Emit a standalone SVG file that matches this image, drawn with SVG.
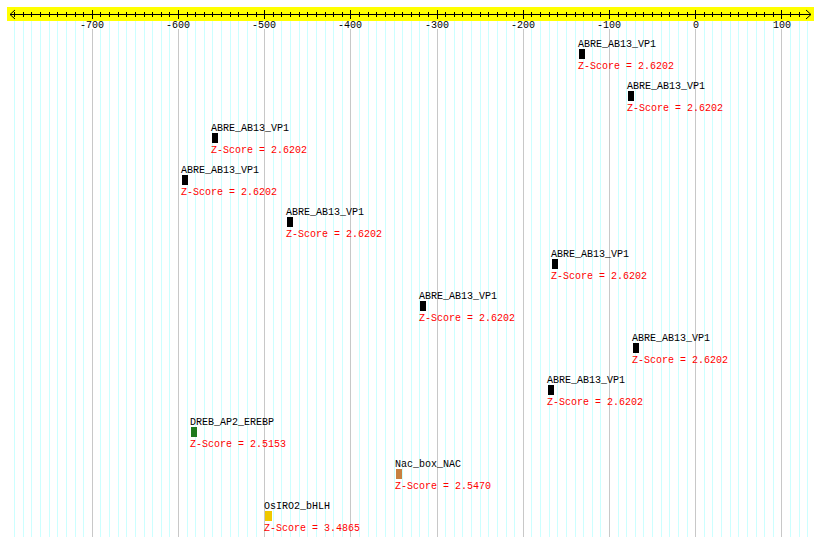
<svg xmlns="http://www.w3.org/2000/svg" width="820" height="547" viewBox="0 0 820 547">
<style>
text{font-family:"Liberation Mono","DejaVu Sans Mono",monospace;font-size:10px}
.lbl{fill:#000}
.z{fill:#ff0000}
.ax{fill:#000;text-anchor:middle}
.minor{stroke:#ccffff;stroke-width:1;fill:none}
.major{stroke:#c8c8c8;stroke-width:1;fill:none}
.tick{stroke:#000;stroke-width:1;fill:none}
</style>
<rect width="820" height="547" fill="#fff"/>
<g id="grid">
<path class="minor" d="M14.5 21V537M23.5 21V537M31.5 21V537M40.5 21V537M49.5 21V537M57.5 21V537M66.5 21V537M75.5 21V537M83.5 21V537M100.5 21V537M109.5 21V537M118.5 21V537M126.5 21V537M135.5 21V537M144.5 21V537M152.5 21V537M161.5 21V537M169.5 21V537M187.5 21V537M195.5 21V537M204.5 21V537M212.5 21V537M221.5 21V537M230.5 21V537M238.5 21V537M247.5 21V537M256.5 21V537M273.5 21V537M281.5 21V537M290.5 21V537M299.5 21V537M307.5 21V537M316.5 21V537M325.5 21V537M333.5 21V537M342.5 21V537M359.5 21V537M368.5 21V537M376.5 21V537M385.5 21V537M394.5 21V537M402.5 21V537M411.5 21V537M419.5 21V537M428.5 21V537M445.5 21V537M454.5 21V537M462.5 21V537M471.5 21V537M480.5 21V537M488.5 21V537M497.5 21V537M506.5 21V537M514.5 21V537M531.5 21V537M540.5 21V537M549.5 21V537M557.5 21V537M566.5 21V537M575.5 21V537M583.5 21V537M592.5 21V537M600.5 21V537M618.5 21V537M626.5 21V537M635.5 21V537M643.5 21V537M652.5 21V537M661.5 21V537M669.5 21V537M678.5 21V537M687.5 21V537M704.5 21V537M712.5 21V537M721.5 21V537M730.5 21V537M738.5 21V537M747.5 21V537M756.5 21V537M764.5 21V537M773.5 21V537M790.5 21V537M799.5 21V537M807.5 21V537"/>
<path class="major" d="M92.5 29V537M178.5 29V537M264.5 29V537M350.5 29V537M437.5 29V537M523.5 29V537M609.5 29V537M695.5 29V537M781.5 29V537"/>
</g>
<g id="ruler">
<rect x="7" y="7" width="807" height="14" fill="#ffff00"/>
<path class="tick" d="M10 14.5H811M15 10L10 14.5L15 19M806 10L811 14.5L806 19"/>
<path class="tick" d="M14.5 12V17M23.5 12V17M31.5 12V17M40.5 12V17M49.5 12V17M57.5 12V17M66.5 12V17M75.5 12V17M83.5 12V17M100.5 12V17M109.5 12V17M118.5 12V17M126.5 12V17M135.5 12V17M144.5 12V17M152.5 12V17M161.5 12V17M169.5 12V17M187.5 12V17M195.5 12V17M204.5 12V17M212.5 12V17M221.5 12V17M230.5 12V17M238.5 12V17M247.5 12V17M256.5 12V17M273.5 12V17M281.5 12V17M290.5 12V17M299.5 12V17M307.5 12V17M316.5 12V17M325.5 12V17M333.5 12V17M342.5 12V17M359.5 12V17M368.5 12V17M376.5 12V17M385.5 12V17M394.5 12V17M402.5 12V17M411.5 12V17M419.5 12V17M428.5 12V17M445.5 12V17M454.5 12V17M462.5 12V17M471.5 12V17M480.5 12V17M488.5 12V17M497.5 12V17M506.5 12V17M514.5 12V17M531.5 12V17M540.5 12V17M549.5 12V17M557.5 12V17M566.5 12V17M575.5 12V17M583.5 12V17M592.5 12V17M600.5 12V17M618.5 12V17M626.5 12V17M635.5 12V17M643.5 12V17M652.5 12V17M661.5 12V17M669.5 12V17M678.5 12V17M687.5 12V17M704.5 12V17M712.5 12V17M721.5 12V17M730.5 12V17M738.5 12V17M747.5 12V17M756.5 12V17M764.5 12V17M773.5 12V17M790.5 12V17M799.5 12V17"/>
<path class="tick" d="M92.5 10V19M178.5 10V19M264.5 10V19M350.5 10V19M437.5 10V19M523.5 10V19M609.5 10V19M695.5 10V19M781.5 10V19"/>
<text class="ax" x="92" y="28">-700</text>
<text class="ax" x="178" y="28">-600</text>
<text class="ax" x="264" y="28">-500</text>
<text class="ax" x="350" y="28">-400</text>
<text class="ax" x="437" y="28">-300</text>
<text class="ax" x="523" y="28">-200</text>
<text class="ax" x="609" y="28">-100</text>
<text class="ax" x="696" y="28">0</text>
<text class="ax" x="782" y="28">100</text>
</g>
<g id="f1"><text class="lbl" x="578" y="47">ABRE_AB13_VP1</text><rect x="579" y="49" width="6" height="10" fill="#000"/><text class="z" x="578" y="69">Z-Score = 2.6202</text></g>
<g id="f2"><text class="lbl" x="627" y="89">ABRE_AB13_VP1</text><rect x="628" y="91" width="6" height="10" fill="#000"/><text class="z" x="627" y="111">Z-Score = 2.6202</text></g>
<g id="f3"><text class="lbl" x="211" y="131">ABRE_AB13_VP1</text><rect x="212" y="133" width="6" height="10" fill="#000"/><text class="z" x="211" y="153">Z-Score = 2.6202</text></g>
<g id="f4"><text class="lbl" x="181" y="173">ABRE_AB13_VP1</text><rect x="182" y="175" width="6" height="10" fill="#000"/><text class="z" x="181" y="195">Z-Score = 2.6202</text></g>
<g id="f5"><text class="lbl" x="286" y="215">ABRE_AB13_VP1</text><rect x="287" y="217" width="6" height="10" fill="#000"/><text class="z" x="286" y="237">Z-Score = 2.6202</text></g>
<g id="f6"><text class="lbl" x="551" y="257">ABRE_AB13_VP1</text><rect x="552" y="259" width="6" height="10" fill="#000"/><text class="z" x="551" y="279">Z-Score = 2.6202</text></g>
<g id="f7"><text class="lbl" x="419" y="299">ABRE_AB13_VP1</text><rect x="420" y="301" width="6" height="10" fill="#000"/><text class="z" x="419" y="321">Z-Score = 2.6202</text></g>
<g id="f8"><text class="lbl" x="632" y="341">ABRE_AB13_VP1</text><rect x="633" y="343" width="6" height="10" fill="#000"/><text class="z" x="632" y="363">Z-Score = 2.6202</text></g>
<g id="f9"><text class="lbl" x="547" y="383">ABRE_AB13_VP1</text><rect x="548" y="385" width="6" height="10" fill="#000"/><text class="z" x="547" y="405">Z-Score = 2.6202</text></g>
<g id="f10"><text class="lbl" x="190" y="425">DREB_AP2_EREBP</text><rect x="191" y="427" width="6" height="10" fill="#1e7a1e"/><text class="z" x="190" y="447">Z-Score = 2.5153</text></g>
<g id="f11"><text class="lbl" x="395" y="467">Nac_box_NAC</text><rect x="396" y="469" width="6" height="10" fill="#c88040"/><text class="z" x="395" y="489">Z-Score = 2.5470</text></g>
<g id="f12"><text class="lbl" x="264" y="509">OsIRO2_bHLH</text><rect x="265" y="511" width="7" height="10" fill="#f0c800"/><text class="z" x="264" y="531">Z-Score = 3.4865</text></g>
</svg>
